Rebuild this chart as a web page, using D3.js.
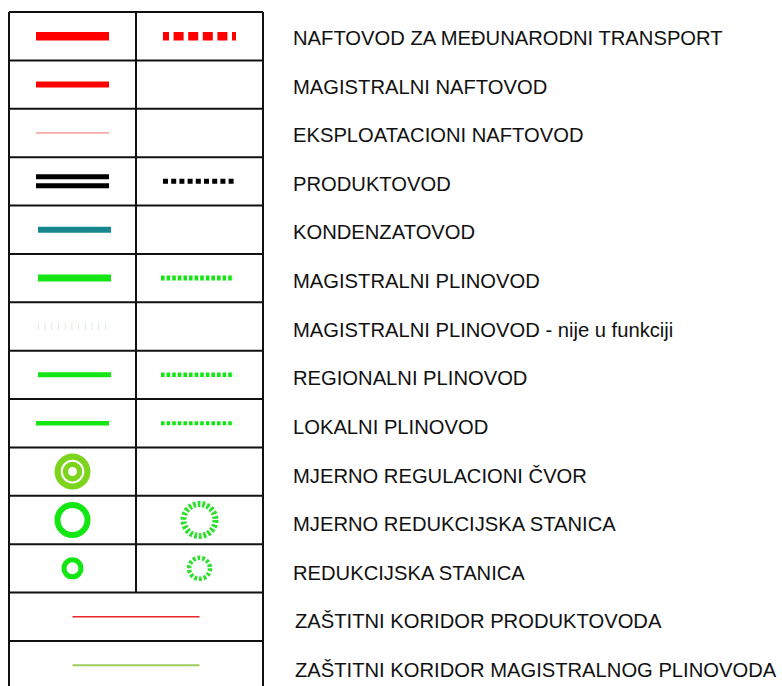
<!DOCTYPE html>
<html>
<head>
<meta charset="utf-8">
<script src="https://cdn.jsdelivr.net/npm/d3@7"></script>
<style>
  body { margin: 0; background: #fff; }
  svg { display: block; }
</style>
</head>
<body>
<div id="legend"></div>
<script>
// legend rows, top to bottom
var labels = [
  "NAFTOVOD ZA MEĐUNARODNI TRANSPORT",
  "MAGISTRALNI NAFTOVOD",
  "EKSPLOATACIONI NAFTOVOD",
  "PRODUKTOVOD",
  "KONDENZATOVOD",
  "MAGISTRALNI PLINOVOD",
  "MAGISTRALNI PLINOVOD - nije u funkciji",
  "REGIONALNI PLINOVOD",
  "LOKALNI PLINOVOD",
  "MJERNO REGULACIONI ČVOR",
  "MJERNO REDUKCIJSKA STANICA",
  "REDUKCIJSKA STANICA",
  "ZAŠTITNI KORIDOR PRODUKTOVODA",
  "ZAŠTITNI KORIDOR MAGISTRALNOG PLINOVODA"
];
var leftKinds = ["oilIntl", "oilMain", "oilExpl", "product", "condensate", "gasMain",
  "gasMainOff", "gasRegional", "gasLocal", "mrc", "mrs", "rs", "corrProduct", "corrGas"];
var rightKinds = ["oilIntlDash", null, null, "productDash", null, "gasMainDash",
  null, "gasRegionalDash", "gasLocalDash", null, "mrsDash", "rsDash", "span", "span"];

var width = 782, height = 686;

var svg = d3.select('#legend').append('svg')
  .attr('width', width)
  .attr('height', height);

var rows = d3.range(labels.length);
var y = d3.scaleBand().domain(rows).range([12, 12 + 48.38 * labels.length]);
var x = d3.scaleBand().domain(['a', 'b']).range([9, 263]);
var textY = d3.scaleLinear().domain([0, labels.length - 1]).range([45, 677]);

var green = '#14e614';

// how each symbol kind is drawn
var styles = {
  oilIntl:       {type: 'line', stroke: '#ff0000', w: 8.5},
  oilIntlDash:   {type: 'line', stroke: '#ff0000', w: 8.5, dash: '10,4.6', offset: 4},
  oilMain:       {type: 'line', stroke: '#ff0000', w: 6},
  oilExpl:       {type: 'line', stroke: '#f26a6a', w: 1},
  product:       {type: 'double', stroke: '#000', w: 5},
  productDash:   {type: 'line', stroke: '#000', w: 5, dash: '5,3.2'},
  condensate:    {type: 'line', stroke: '#16878e', w: 6, dx: 2},
  gasMain:       {type: 'line', stroke: green, w: 7, dx: 2},
  gasMainDash:   {type: 'line', stroke: green, w: 5, dash: '3.6,2', dx: -2},
  gasMainOff:    {type: 'line', stroke: '#d6e6d6', w: 7, dash: '0.8,5.9', dx: 2},
  gasRegional:   {type: 'line', stroke: green, w: 5, dx: 2},
  gasRegionalDash: {type: 'line', stroke: green, w: 4.5, dash: '3.6,2', dx: -2},
  gasLocal:      {type: 'line', stroke: green, w: 4.5},
  gasLocalDash:  {type: 'line', stroke: green, w: 4, dash: '3.6,2', dx: -2},
  mrc:           {type: 'mrc', fill: '#7dd41c', r: 18},
  mrs:           {type: 'ring', stroke: green, r: 15, w: 6},
  mrsDash:       {type: 'ring', stroke: '#2ee02e', r: 16, w: 6, n: 22},
  rs:            {type: 'ring', stroke: green, r: 8.5, w: 5},
  rsDash:        {type: 'ring', stroke: '#2ee02e', r: 10.5, w: 4.5, n: 14},
  corrProduct:   {type: 'line', stroke: '#e8262a', w: 1.5, half: 63.5},
  corrGas:       {type: 'line', stroke: '#9ccc5c', w: 2, half: 63.5}
};

function drawSymbol(g, kind, cx, cy) {
  var s = styles[kind];
  if (s.type === 'line') {
    var h = s.half || 36.5, c = cx + (s.dx || 0);
    g.append('line')
      .attr('x1', c - h).attr('x2', c + h)
      .attr('y1', cy).attr('y2', cy)
      .attr('stroke', s.stroke)
      .attr('stroke-width', s.w)
      .attr('stroke-dasharray', s.dash || null)
      .attr('stroke-dashoffset', s.offset || null);
  } else if (s.type === 'double') {
    [-4.5, 4.5].forEach(function(o) {
      g.append('line')
        .attr('x1', cx - 36.5).attr('x2', cx + 36.5)
        .attr('y1', cy + o).attr('y2', cy + o)
        .attr('stroke', s.stroke)
        .attr('stroke-width', s.w);
    });
  } else if (s.type === 'mrc') {
    g.append('circle').attr('cx', cx).attr('cy', cy).attr('r', s.r).attr('fill', s.fill);
    g.append('circle').attr('cx', cx).attr('cy', cy).attr('r', s.r * 0.6)
      .attr('fill', 'none').attr('stroke', '#fff').attr('stroke-width', 2);
    g.append('circle').attr('cx', cx).attr('cy', cy).attr('r', 4.5).attr('fill', '#fff');
  } else if (s.type === 'ring') {
    var ring = g.append('circle').attr('cx', cx).attr('cy', cy).attr('r', s.r)
      .attr('fill', 'none').attr('stroke', s.stroke).attr('stroke-width', s.w);
    if (s.n) {
      var per = 2 * Math.PI * s.r / s.n;
      ring.attr('stroke-dasharray', (per * 0.6) + ',' + (per * 0.4));
    }
  }
}

var row = svg.selectAll('g.row')
  .data(rows)
  .enter().append('g')
  .attr('class', 'row');

row.each(function(i) {
  var g = d3.select(this);
  var cy = y(i) + y.bandwidth() / 2;
  var full = rightKinds[i] === 'span';
  if (full) {
    drawSymbol(g, leftKinds[i], x('b'), cy);
  } else {
    drawSymbol(g, leftKinds[i], x('a') + x.bandwidth() / 2, cy);
    if (rightKinds[i]) drawSymbol(g, rightKinds[i], x('b') + x.bandwidth() / 2, cy);
  }
});

// table grid
var grid = svg.append('g')
  .attr('stroke', '#111')
  .attr('stroke-width', 2)
  .attr('fill', 'none');

grid.selectAll('line.h')
  .data(d3.range(labels.length + 1))
  .enter().append('line')
  .attr('x1', 9).attr('x2', 263)
  .attr('y1', function(i) { return i < labels.length ? y(i) : y.range()[1]; })
  .attr('y2', function(i) { return i < labels.length ? y(i) : y.range()[1]; });

grid.append('line')
  .attr('x1', 9).attr('x2', 9)
  .attr('y1', y(0)).attr('y2', y.range()[1]);
grid.append('line')
  .attr('x1', 263).attr('x2', 263)
  .attr('y1', y(0)).attr('y2', y.range()[1]);
grid.append('line')
  .attr('x1', x('b')).attr('x2', x('b'))
  .attr('y1', y(0)).attr('y2', y(12));

// labels
svg.selectAll('text.label')
  .data(labels)
  .enter().append('text')
  .attr('class', 'label')
  .attr('x', function(d, i) { return i >= 12 ? 295 : 293; })
  .attr('y', function(d, i) { return textY(i); })
  .attr('font-family', '"Liberation Sans", Arial, sans-serif')
  .attr('font-size', 20.2)
  .attr('fill', '#111')
  .text(function(d) { return d; });
</script>
</body>
</html>
